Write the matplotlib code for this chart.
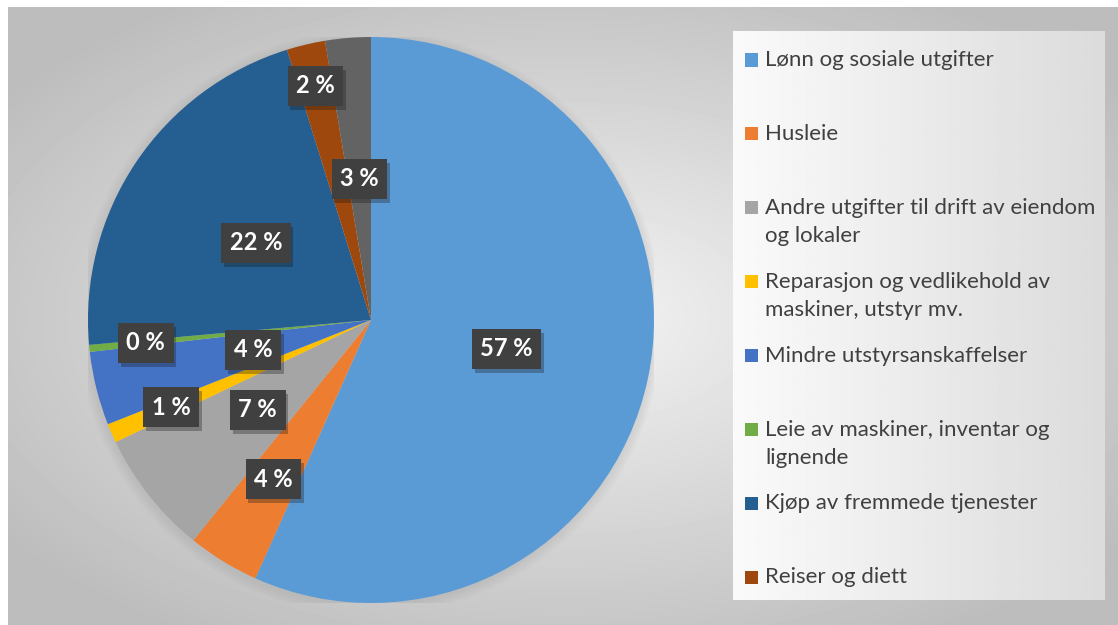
import numpy as np
import matplotlib
matplotlib.use("Agg")
import matplotlib.pyplot as plt
import matplotlib.patheffects as pe
from matplotlib.patches import Rectangle, Circle

plt.rcParams['font.family'] = ['Lato', 'DejaVu Sans']

# data: share of operating costs (%), clockwise from 12 o'clock
categories = [
    "Lønn og sosiale utgifter",
    "Husleie",
    "Andre utgifter til drift av eiendom\nog lokaler",
    "Reparasjon og vedlikehold av\nmaskiner, utstyr mv.",
    "Mindre utstyrsanskaffelser",
    "Leie av maskiner, inventar og\nlignende",
    "Kjøp av fremmede tjenester",
    "Reiser og diett",
    "Andre driftsutgifter",
]
shares = [56.7, 4.1, 7.1, 1.1, 4.2, 0.4, 21.6, 2.2, 2.6]
colors = ["#5B9BD5", "#ED7D31", "#A5A5A5", "#FFC000", "#4472C4",
          "#70AD47", "#255E91", "#9E480E", "#636363"]
n_legend = 8  # last slice is not in the visible legend

# label distance from centre (fraction of radius), like Excel's best fit
label_r = [0.49, 0.66, 0.51, 0.77, 0.43, 0.80, 0.49, 0.85, 0.50]

W, H = 1118, 625
fig = plt.figure(figsize=(W / 100, H / 100), dpi=100)

# background with radial gradient
bg = fig.add_axes([8 / W, 0, 1 - 8 / W, 1 - 7 / H])
yy, xx = np.mgrid[0:200, 0:360]
d = np.sqrt(((xx - 180) / 230.0) ** 2 + ((yy - 100) / 125.0) ** 2)
shade = np.clip(0.955 - 0.22 * d, 0.74, 1)
bg.imshow(shade, cmap="gray", vmin=0, vmax=1, aspect="auto",
          extent=[0, 1, 0, 1], interpolation="bicubic")
bg.set_xlim(0, 1)
bg.set_ylim(0, 1)
bg.axis("off")

# legend panel with a horizontal gradient
lg = fig.add_axes([733 / W, 1 - 600 / H, (1105 - 733) / W, (600 - 31) / H])
grad = np.linspace(0.98, 0.86, 200)[None, :] * np.ones((50, 1))
lg.imshow(grad, cmap="gray", vmin=0, vmax=1, aspect="auto",
          extent=[0, 1, 0, 1])
lg.axis("off")

# pie
cx, cy, R = 371, 320, 283
ax = fig.add_axes([(cx - R) / W, 1 - (cy + R) / H, 2 * R / W, 2 * R / H])
for k in range(8):
    ax.add_patch(Circle((-0.004, -0.008), 1.0 + 0.005 * k, color="#a0a0a0",
                        alpha=0.035, lw=0, zorder=0))
wedges, _ = ax.pie(shares, colors=colors, startangle=90, counterclock=False,
                   radius=1, wedgeprops=dict(linewidth=0))
ax.set_xlim(-1, 1)
ax.set_ylim(-1, 1)
ax.set_aspect("equal")
ax.axis("off")

total = sum(shares)
for w, v, r in zip(wedges, shares, label_r):
    ang = np.deg2rad((w.theta1 + w.theta2) / 2)
    t = ax.text(r * np.cos(ang), r * np.sin(ang), f"{v / total * 100:.0f} %",
                ha="center", va="center", color="white", fontsize=17,
                fontweight="bold", zorder=5,
                bbox=dict(boxstyle="square,pad=0.36", fc="#404040", ec="none"))
    t.get_bbox_patch().set_path_effects(
        [pe.SimplePatchShadow(offset=(2, -3), alpha=0.3), pe.Normal()])

# legend entries, fixed pitch from the top
for i in range(n_legend):
    y0 = 60 + 73.9 * i
    fig.patches.append(Rectangle((745 / W, 1 - (y0 + 6.5) / H), 13 / W, 13 / H,
                                 transform=fig.transFigure, fc=colors[i],
                                 ec="none"))
    for j, line in enumerate(categories[i].split("\n")):
        fig.text(765 / W, 1 - (y0 + 28 * j) / H, line, fontsize=16,
                 color="#404040", ha="left", va="center")

fig.savefig("out.png", dpi=100)
